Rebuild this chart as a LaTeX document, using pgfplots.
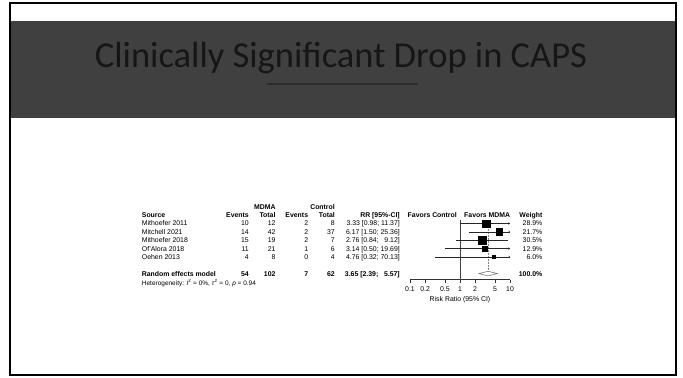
\documentclass[border=0pt]{standalone}
\usepackage{pgfplots}
\pgfplotsset{compat=1.18}
\usepackage{pgfplotstable}
\usetikzlibrary{arrows.meta}
\usepackage{fontspec}
\setmainfont{Liberation Sans}
\newfontfamily\titlefont{Carlito}
\definecolor{band}{HTML}{404040}
\definecolor{titletxt}{HTML}{161616}
\definecolor{rulec}{HTML}{2C2C2C}
\newcommand\fs{\fontsize{6.9bp}{8bp}\selectfont}
\newcommand\fh{\fontsize{6.5bp}{8bp}\selectfont}

% study estimates: risk ratio, CI, row, weight (%)
\pgfplotstableread{
rr   lo   hi    row w
3.33 0.98 11.37 1   28.9
6.17 1.50 25.36 2   21.7
2.76 0.84 9.12  3   30.5
3.14 0.50 19.69 4   12.9
4.76 0.32 70.13 5   6.0
}\studies

\newcommand\studyrow[8]{%
  \node[anchor=base west] at (141.7,#1) {#2};
  \node[anchor=base east] at (249,#1) {#3};
  \node[anchor=base east] at (275.7,#1) {#4};
  \node[anchor=base east] at (308.3,#1) {#5};
  \node[anchor=base east] at (335,#1) {#6};
  \node[anchor=base east] at (400,#1) {#7};
  \node[anchor=base east] at (542.5,#1) {#8};
}

\begin{document}
\begin{tikzpicture}
\useasboundingbox (0,0) rectangle (683bp,378bp);

\begin{scope}[shift={(0,378bp)}, x=1bp, y=-1bp]
  % slide
  \fill[band] (10,21.5) rectangle (675.5,118);
  \draw[black, line width=2bp] (10,3) rectangle (675.5,375.5);
  \node[anchor=base, inner sep=0, text=titletxt,
        font=\titlefont\fontsize{36.5bp}{40bp}\selectfont] at (341,67.7)
        {Clinically Significant Drop in CAPS};
  \draw[rulec, line width=1.1bp] (267,84) -- (418,84);
\end{scope}

\begin{axis}[
  at={(410bp,98.4bp)}, anchor=south west,
  scale only axis, width=100bp, height=64.46bp,
  xmode=log, xmin=0.1, xmax=10,
  ymin=-7.72, ymax=0,
  axis x line*=bottom, axis y line=none,
  xtick={0.1,0.2,0.5,1,2,5,10},
  xticklabels={0.1,0.2,0.5,1,2,5,10},
  xminorticks=false,
  tick align=outside, major tick length=3.5bp,
  x axis line style={black!80, line width=0.5bp},
  every tick/.style={black!80, line width=0.5bp},
  xticklabel style={font=\fs, inner sep=0pt, yshift=-3.2bp},
  /pgf/number format/assume math mode=true,
  clip=false,
]
  % reference lines
  \addplot[black!75, line width=0.5bp] coordinates {(1,-0.55) (1,-7.72)};
  \addplot[gray, densely dotted, line width=0.5bp] coordinates {(3.65,-0.55) (3.65,-6.72)};
  % confidence intervals
  \addplot[black!85, line width=0.45bp, -{To[length=1.6bp,width=2.2bp]}] coordinates {(0.98,-1) (10,-1)};
  \addplot[black!85, line width=0.45bp, -{To[length=1.6bp,width=2.2bp]}] coordinates {(1.50,-2) (10,-2)};
  \addplot[black!85, line width=0.45bp] coordinates {(0.84,-3) (9.12,-3)};
  \addplot[black!85, line width=0.45bp, -{To[length=1.6bp,width=2.2bp]}] coordinates {(0.50,-4) (10,-4)};
  \addplot[black!85, line width=0.45bp, -{To[length=1.6bp,width=2.2bp]}] coordinates {(0.32,-5) (10,-5)};
  % boxes sized by weight
  \addplot[scatter, only marks, mark=square*,
    scatter/use mapped color={draw=black, fill=black},
    visualization depends on={0.68*sqrt(\thisrow{w}) \as \bsize},
    scatter/@pre marker code/.append style={/tikz/mark size=\bsize}]
    table[x=rr, y expr=-\thisrow{row}, meta=w] {\studies};
  % pooled diamond
  \addplot[gray!80!black, fill=white, line width=0.5bp]
    coordinates {(2.39,-7) (3.65,-6.72) (5.57,-7) (3.65,-7.28)} -- cycle;
\end{axis}

\begin{scope}[shift={(0,378bp)}, x=1bp, y=-1bp, every node/.style={inner sep=0, font=\fs}]
  \node[anchor=base east] at (275.7,209.3) {\bfseries MDMA};
  \node[anchor=base east] at (335,209.3) {\bfseries Control};
  \studyrow{217.65}{\bfseries Source}{\bfseries Events}{\bfseries Total}{\bfseries Events}{\bfseries Total}{\bfseries RR [95\%-CI]}{\bfseries Weight}
  \node[anchor=base east] at (457,217.65) {\bfseries Favors Control};
  \node[anchor=base west] at (464,217.65) {\bfseries Favors MDMA};
  \studyrow{226.0}{Mithoefer 2011}{10}{12}{2}{8}{3.33 [0.98; 11.37]}{28.9\%}
  \studyrow{234.35}{Mitchell 2021}{14}{42}{2}{37}{6.17 [1.50; 25.36]}{21.7\%}
  \studyrow{242.7}{Mithoefer 2018}{15}{19}{2}{7}{2.76 [0.84; \phantom{1}9.12]}{30.5\%}
  \studyrow{251.05}{Of'Alora 2018}{11}{21}{1}{6}{3.14 [0.50; 19.69]}{12.9\%}
  \studyrow{259.4}{Oehen 2013}{4}{8}{0}{4}{4.76 [0.32; 70.13]}{6.0\%}
  \studyrow{276.1}{\bfseries Random effects model}{\bfseries 54}{\bfseries 102}{\bfseries 7}{\bfseries 62}{\bfseries 3.65 [2.39; \phantom{1}5.57]}{\bfseries 100.0\%}
  \node[anchor=base west, font=\fh] at (141.7,285.2)
    {Heterogeneity: \textit{I}\textsuperscript{2} = 0\%, \textit{τ}\textsuperscript{2} = 0, \textit{p} = 0.94};
  \node[anchor=base] at (460,302) {Risk Ratio (95\% CI)};
\end{scope}
\end{tikzpicture}
\end{document}
